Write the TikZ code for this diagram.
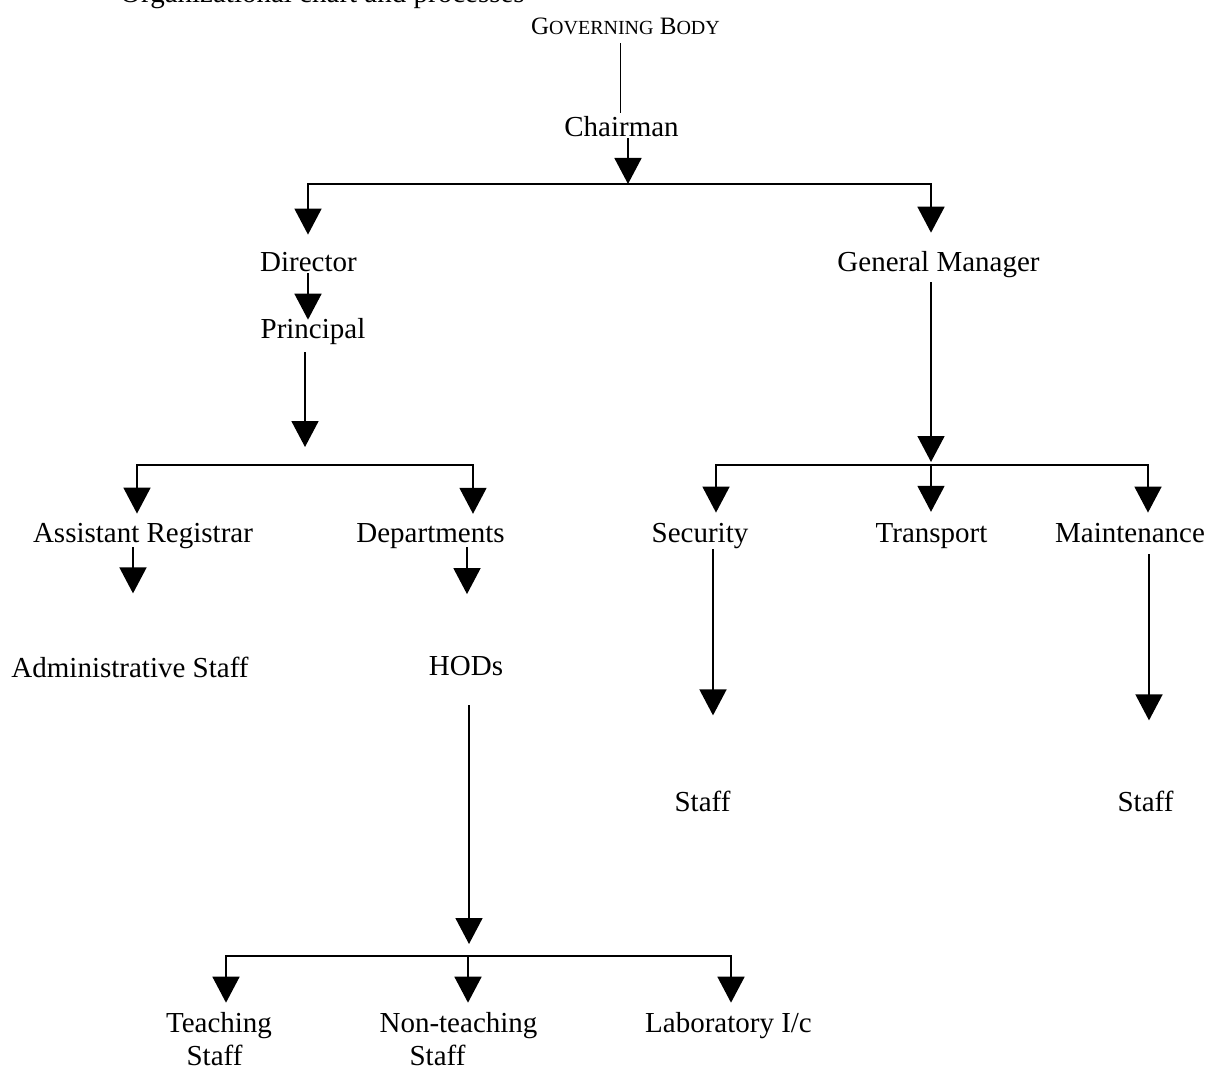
\documentclass[tikz,border=0pt]{standalone}
\usepackage{fontspec}
\setmainfont{Liberation Serif}
\usepackage{tikz}
\usetikzlibrary{arrows.meta}
\newcommand{\smc}[1]{{\fontsize{20pt}{24pt}\selectfont #1}}
\begin{document}
\begin{tikzpicture}[x=1pt,y=-1pt,
  every node/.style={inner sep=0pt,anchor=base,font=\fontsize{29pt}{33pt}\selectfont},
  ln/.style={line width=1.7pt,line cap=rect},
  arr/.style={line width=1.7pt,-{Triangle[width=27pt,length=26pt]}},
  thinln/.style={line width=1pt}]
  \useasboundingbox (0,0) rectangle (1209,1067);
  \node[anchor=base west] (T) at (120,3) {Organizational chart and processes};
  \node[font=\fontsize{25pt}{30pt}\selectfont] (GB) at (625.5,35) {G\smc{OVERNING} B\smc{ODY}};
  \node (CH) at (621.5,137) {Chairman};
  \node (DIR) at (308.5,272) {Director};
  \node (GM) at (938.5,272) {General Manager};
  \node (PR) at (313,338) {Principal};
  \node (AR) at (143,542) {Assistant Registrar};
  \node (DEP) at (430.5,542) {Departments};
  \node (SEC) at (700,542) {Security};
  \node (TR) at (931.5,542) {Transport};
  \node (MT) at (1130,542) {Maintenance};
  \node (ADM) at (130,677) {Administrative Staff};
  \node (HOD) at (466,675) {HODs};
  \node (SECS) at (702.5,811) {Staff};
  \node (MTS) at (1145.5,811) {Staff};
  \node (TS) at (219,1032) {Teaching};
  \node (TS2) at (214.5,1065) {Staff};
  \node (NTS) at (458.5,1032) {Non-teaching};
  \node (NTS2) at (437.5,1065) {Staff};
  \node (LAB) at (728.5,1032) {Laboratory I/c};

  \coordinate (b1) at (628,184);
  \coordinate (b1l) at (308,184);
  \coordinate (b1r) at (931,184);
  \coordinate (p2) at (305,447);
  \coordinate (b2l) at (137,465);
  \coordinate (b2r) at (473,465);
  \coordinate (p3) at (931,462);
  \coordinate (b3l) at (716,465);
  \coordinate (b3m) at (931,465);
  \coordinate (b3r) at (1148,465);
  \coordinate (p4) at (469,944);
  \coordinate (b4l) at (226,956);
  \coordinate (b4m) at (468,956);
  \coordinate (b4r) at (731,956);

  \draw[thinln] ([xshift=-5.5pt,yshift=-8pt]GB.south) -- ([xshift=-1.5pt,yshift=4pt]CH.north);
  \draw[arr] ([xshift=6.5pt,yshift=-1pt]CH.south) -- (b1);
  \draw[ln] (b1l) -- (b1r);
  \draw[arr] (b1l) -- ([xshift=-0.5pt,yshift=18pt]DIR.north);
  \draw[arr] (b1r) -- ([xshift=-7.5pt,yshift=19pt]GM.north);

  \draw[arr] ([xshift=-0.5pt,yshift=-1pt]DIR.south) -- ([xshift=-5pt,yshift=-2pt]PR.north);
  \draw[arr] ([xshift=-8pt,yshift=-8pt]PR.south) -- (p2);
  \draw[ln] (b2l) -- (b2r);
  \draw[arr] (b2l) -- ([xshift=-6pt,yshift=9pt]AR.north);
  \draw[arr] (b2r) -- ([xshift=42.5pt,yshift=9pt]DEP.north);
  \draw[arr] ([xshift=-10pt,yshift=1pt]AR.south) -- ([xshift=3pt,yshift=63pt]ADM.north);
  \draw[arr] ([xshift=36.5pt,yshift=1pt]DEP.south) -- ([xshift=1pt,yshift=61.5pt]HOD.north);

  \draw[arr] ([xshift=3pt,yshift=-30pt]HOD.south) -- (p4);
  \draw[ln] (b4l) -- (b4r);
  \draw[arr] (b4l) -- ([xshift=7pt,yshift=9pt]TS.north);
  \draw[arr] (b4m) -- ([xshift=9.5pt,yshift=9pt]NTS.north);
  \draw[arr] (b4r) -- ([xshift=2.5pt,yshift=9pt]LAB.north);

  \draw[arr] ([xshift=-7.5pt,yshift=-4pt]GM.south) -- (p3);
  \draw[ln] (b3l) -- (b3r);
  \draw[arr] (b3l) -- ([xshift=16pt,yshift=10pt]SEC.north);
  \draw[arr] (b3m) -- ([xshift=-0.5pt,yshift=11pt]TR.north);
  \draw[arr] (b3r) -- ([xshift=18pt,yshift=10pt]MT.north);
  \draw[arr] ([xshift=13pt,yshift=-1pt]SEC.south) -- ([xshift=10.5pt,yshift=75pt]SECS.north);
  \draw[arr] ([xshift=19pt,yshift=-12pt]MT.south) -- ([xshift=3.5pt,yshift=70pt]MTS.north);
\end{tikzpicture}
\end{document}
